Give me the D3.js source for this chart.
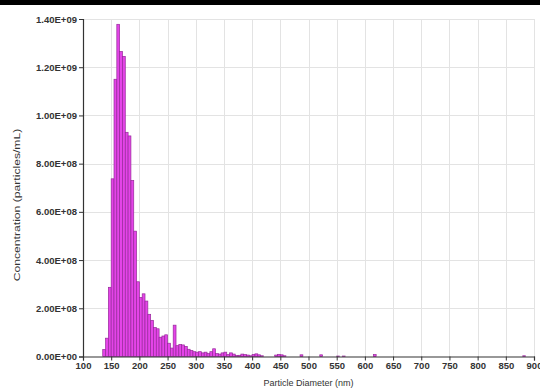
<!DOCTYPE html>
<html>
<head>
<meta charset="utf-8">
<script src="https://cdn.jsdelivr.net/npm/d3@7"></script>
<style>
  html, body { margin: 0; padding: 0; background: #fff; }
  svg { display: block; font-family: 'Liberation Sans', Arial, sans-serif; }
</style>
</head>
<body>
<svg class="chart" width="540" height="389"></svg>
<script>
// bin start (nm), 5 nm wide bins
const binStarts = [
  135, 140, 145, 150, 155, 160, 165, 170, 175, 180,
  185, 190, 195, 200, 205, 210, 215, 220, 225, 230,
  235, 240, 245, 250, 255, 260, 265, 270, 275, 280,
  285, 290, 295, 300, 305, 310, 315, 320, 325, 330,
  335, 340, 345, 350, 355, 360, 365, 370, 375, 380,
  385, 390, 395, 400, 405, 410, 415, 440, 445, 450,
  455, 485, 520, 550, 560, 615, 880
]
// concentration (particles/mL)
const concentration = [
  0.29e8, 0.76e8, 2.87e8, 7.37e8, 11.5e8, 13.78e8, 12.65e8, 12.45e8, 9.3e8, 9.15e8,
  7.3e8, 5.2e8, 3.1e8, 2.45e8, 2.6e8, 2.3e8, 1.75e8, 1.5e8, 1.2e8, 1.15e8,
  0.8e8, 0.85e8, 0.9e8, 0.55e8, 0.35e8, 1.3e8, 0.45e8, 0.5e8, 0.48e8, 0.42e8,
  0.3e8, 0.25e8, 0.2e8, 0.18e8, 0.2e8, 0.15e8, 0.18e8, 0.12e8, 0.2e8, 0.32e8,
  0.12e8, 0.1e8, 0.15e8, 0.18e8, 0.08e8, 0.15e8, 0.1e8, 0.04e8, 0.05e8, 0.1e8,
  0.08e8, 0.06e8, 0.03e8, 0.08e8, 0.11e8, 0.07e8, 0.03e8, 0.06e8, 0.09e8, 0.07e8,
  0.03e8, 0.07e8, 0.07e8, 0.02e8, 0.02e8, 0.08e8, 0.03e8
]
const binWidth = 5
const xTicks = d3.range(100, 901, 50)
const yTicks = [0, 2e8, 4e8, 6e8, 8e8, 1e9, 1.2e9, 1.4e9]

const data = binStarts.map((s, i) => ({ start: s, value: concentration[i] }))

const margin = { top: 19, right: 6, bottom: 32.5, left: 83 }
const svg = d3.select('svg.chart')
const width = +svg.attr('width')
const height = +svg.attr('height')

const x = d3.scaleLinear().domain([100, 900]).range([margin.left, width - margin.right])
const y = d3.scaleLinear().domain([0, 1.4e9]).range([height - margin.bottom, margin.top])

const sci = (v) => {
  if (v === 0) return '0.00E+00'
  const [m, e] = v.toExponential(2).split('e')
  const n = Math.abs(+e)
  return `${m}E${+e < 0 ? '-' : '+'}${n < 10 ? '0' + n : n}`
}

// black strip on top of the screenshot
svg.append('rect').attr('x', 0).attr('y', 0).attr('width', width).attr('height', 5).attr('fill', '#000')

// grid
const grid = svg.append('g').attr('stroke', '#e3e3e3').attr('stroke-width', 1)
grid.selectAll('line.v').data(xTicks.slice(1)).join('line')
  .attr('class', 'v')
  .attr('x1', d => Math.round(x(d)) + 0.5).attr('x2', d => Math.round(x(d)) + 0.5)
  .attr('y1', y(1.4e9)).attr('y2', y(0))
grid.selectAll('line.h').data(yTicks.slice(1)).join('line')
  .attr('class', 'h')
  .attr('x1', x(100)).attr('x2', x(900))
  .attr('y1', d => Math.round(y(d)) + 0.5).attr('y2', d => Math.round(y(d)) + 0.5)

// bars
svg.append('g').selectAll('rect').data(data).join('rect')
  .attr('x', d => x(d.start))
  .attr('width', d => x(d.start + binWidth) - x(d.start))
  .attr('y', d => y(d.value))
  .attr('height', d => y(0) - y(d.value))
  .attr('fill', '#e444e8')
  .attr('stroke', '#962a9a')
  .attr('stroke-width', 0.7)

// axes
const xAxis = d3.axisBottom(x).tickValues(xTicks).tickSize(4).tickPadding(2).tickFormat(d3.format('d'))
const yAxis = d3.axisLeft(y).tickValues(yTicks).tickSize(4).tickPadding(2).tickFormat(sci)

const gx = svg.append('g').attr('transform', `translate(0,${y(0)})`).call(xAxis)
const gy = svg.append('g').attr('transform', `translate(${x(100)},0)`).call(yAxis)

for (const g of [gx, gy]) {
  g.select('.domain').attr('stroke', '#333').attr('stroke-width', 1.2)
  g.selectAll('.tick line').attr('stroke', '#333')
  g.selectAll('.tick text')
    .attr('fill', '#333')
    .attr('font-weight', 'bold')
    .attr('font-family', "'Liberation Sans', Arial, sans-serif")
}
gx.selectAll('.tick text').attr('font-size', 9.5)
gy.selectAll('.tick text').attr('font-size', 9.5)

// titles
svg.append('text')
  .attr('x', (x(100) + x(900)) / 2)
  .attr('y', height - 3)
  .attr('text-anchor', 'middle')
  .attr('font-size', 9)
  .attr('fill', '#333')
  .text('Particle Diameter (nm)')

// the y title is stretched along its length in the reference
svg.append('text')
  .attr('transform', `translate(20,205) rotate(-90) scale(1.35,1)`)
  .attr('text-anchor', 'middle')
  .attr('font-size', 9)
  .attr('fill', '#333')
  .text('Concentration (particles/mL)')
</script>
</body>
</html>
